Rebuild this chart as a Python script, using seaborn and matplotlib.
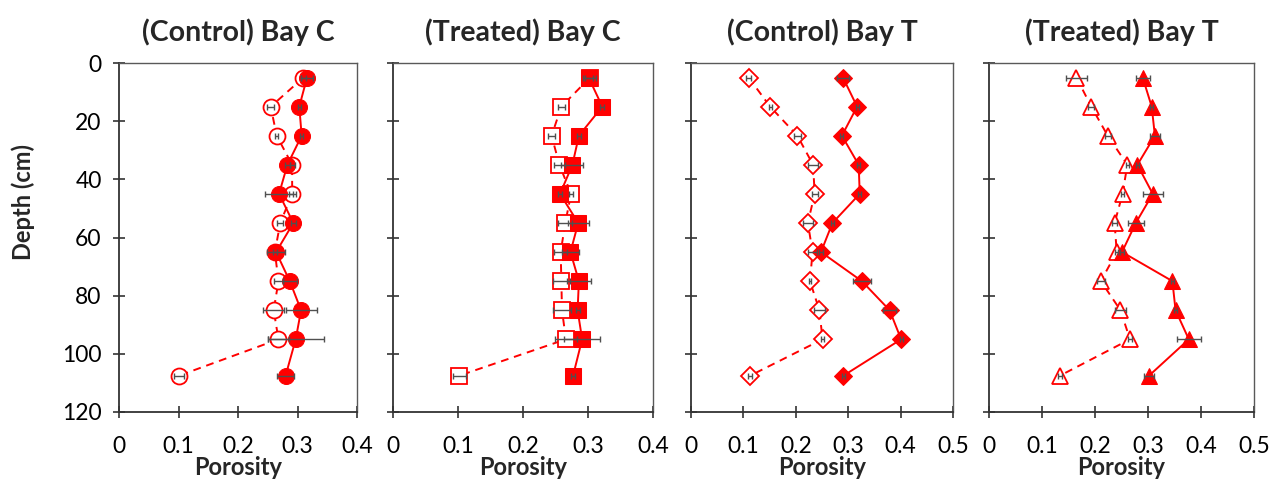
import matplotlib
matplotlib.use("Agg")
import matplotlib.pyplot as plt
import seaborn as sns
import numpy as np
import pandas as pd

# Sampling depths (cm)
depth = [5, 15, 25, 35, 45, 55, 65, 75, 85, 95, 107.5]

# Porosity profiles: dashed/open series and solid/filled series for each bay and treatment
ctrl_bayc_control = [0.310, 0.255, 0.265, 0.291, 0.291, 0.271, 0.262, 0.268, 0.260, 0.268, 0.101]
ctrl_bayc_control_err = [0.004, 0.006, 0.003, 0.004, 0.006, 0.005, 0.004, 0.008, 0.018, 0.017, 0.008]
trt_bayc_control = [0.316, 0.303, 0.307, 0.283, 0.269, 0.293, 0.264, 0.287, 0.306, 0.297, 0.280]
trt_bayc_control_err = [0.010, 0.003, 0.003, 0.004, 0.024, 0.004, 0.015, 0.012, 0.026, 0.047, 0.014]

ctrl_bayc_treated = [0.303, 0.259, 0.244, 0.256, 0.274, 0.265, 0.258, 0.259, 0.260, 0.266, 0.102]
ctrl_bayc_treated_err = [0.010, 0.005, 0.005, 0.008, 0.003, 0.011, 0.010, 0.013, 0.014, 0.017, 0.010]
trt_bayc_treated = [0.301, 0.322, 0.286, 0.276, 0.257, 0.285, 0.273, 0.286, 0.284, 0.291, 0.277]
trt_bayc_treated_err = [0.006, 0.003, 0.003, 0.017, 0.003, 0.016, 0.013, 0.019, 0.003, 0.028, 0.003]

ctrl_bayt_control = [0.110, 0.151, 0.203, 0.233, 0.236, 0.223, 0.232, 0.227, 0.245, 0.251, 0.113]
ctrl_bayt_control_err = [0.005, 0.003, 0.006, 0.010, 0.006, 0.010, 0.008, 0.002, 0.010, 0.003, 0.004]
trt_bayt_control = [0.290, 0.317, 0.288, 0.320, 0.322, 0.270, 0.248, 0.326, 0.379, 0.401, 0.291]
trt_bayt_control_err = [0.012, 0.003, 0.003, 0.003, 0.003, 0.003, 0.003, 0.017, 0.012, 0.003, 0.003]

ctrl_bayt_treated = [0.165, 0.193, 0.224, 0.261, 0.252, 0.237, 0.241, 0.211, 0.248, 0.266, 0.134]
ctrl_bayt_treated_err = [0.019, 0.006, 0.006, 0.003, 0.003, 0.004, 0.003, 0.007, 0.010, 0.003, 0.003]
trt_bayt_treated = [0.290, 0.307, 0.313, 0.280, 0.309, 0.277, 0.251, 0.346, 0.352, 0.377, 0.302]
trt_bayt_treated_err = [0.013, 0.003, 0.010, 0.003, 0.019, 0.015, 0.003, 0.003, 0.003, 0.023, 0.010]

titles = ["(Control) Bay C", "(Treated) Bay C", "(Control) Bay T", "(Treated) Bay T"]
x_limits = [0.4, 0.4, 0.5, 0.5]
markers = ["o", "s", "D", "^"]
marker_sizes = [11.5, 11.5, 9.5, 12]

panels = [
    (ctrl_bayc_control, ctrl_bayc_control_err, trt_bayc_control, trt_bayc_control_err),
    (ctrl_bayc_treated, ctrl_bayc_treated_err, trt_bayc_treated, trt_bayc_treated_err),
    (ctrl_bayt_control, ctrl_bayt_control_err, trt_bayt_control, trt_bayt_control_err),
    (ctrl_bayt_treated, ctrl_bayt_treated_err, trt_bayt_treated, trt_bayt_treated_err),
]

sns.set_theme(style="ticks")
plt.rcParams["font.family"] = ["Lato", "DejaVu Sans"]

W, H = 1271, 483
fig = plt.figure(figsize=(W / 100, H / 100), dpi=100)

# axes boxes in pixels: (left, right)
boxes = [(119, 357), (393, 653), (691, 953), (989, 1254)]
top_px, bottom_px = 63, 412

red = "#ff0000"
frame = "#595959"

for i, ((o_val, o_err, f_val, f_err), (l, r)) in enumerate(zip(panels, boxes)):
    ax = fig.add_axes([l / W, 1 - bottom_px / H, (r - l) / W, (bottom_px - top_px) / H])
    df = pd.DataFrame({"depth": depth, "open": o_val, "filled": f_val})

    # dashed series with open markers
    sns.lineplot(data=df, x="open", y="depth", sort=False, estimator=None, ax=ax,
                 color=red, lw=1.4, linestyle=(0, (4, 3)), marker=markers[i],
                 markersize=marker_sizes[i], markerfacecolor="white",
                 markeredgecolor=red, markeredgewidth=1.3, zorder=2)
    # solid series with filled markers
    sns.lineplot(data=df, x="filled", y="depth", sort=False, estimator=None, ax=ax,
                 color=red, lw=1.4, marker=markers[i], markersize=marker_sizes[i],
                 markerfacecolor=red, markeredgecolor=red, zorder=3)

    ax.errorbar(o_val, depth, xerr=o_err, fmt="none", ecolor="#505050",
                elinewidth=1, capsize=2, capthick=1, zorder=4)
    ax.errorbar(f_val, depth, xerr=f_err, fmt="none", ecolor="#505050",
                elinewidth=1, capsize=2, capthick=1, zorder=4)

    ticks = np.arange(0, x_limits[i] + 0.001, 0.1)
    ax.set_xlim(0, x_limits[i])
    ax.set_ylim(120, 0)
    ax.set_xticks(ticks)
    ax.set_xticklabels([("0" if v == 0 else f"{v:.1f}") for v in ticks])
    ax.set_yticks(np.arange(0, 121, 20))
    if i == 0:
        ax.set_ylabel("Depth (cm)", fontsize=17, fontweight="bold")
        ax.yaxis.set_label_coords(-84 / (r - l), (bottom_px - 202) / (bottom_px - top_px))
        ax.tick_params(axis="y", labelsize=16.5)
    else:
        ax.set_ylabel("")
        ax.set_yticklabels([])
    ax.set_xlabel("Porosity", fontsize=17, fontweight="bold", labelpad=-1)
    ax.set_title(titles[i], fontsize=20.5, fontweight="bold", pad=16)
    ax.tick_params(axis="both", direction="inout", length=9, width=1.2,
                   color="#333333", labelcolor="black")
    ax.tick_params(axis="x", labelsize=16.5, pad=13)
    ax.tick_params(axis="y", pad=8)
    for s in ax.spines.values():
        s.set_color(frame)
        s.set_linewidth(1.0)
    ax.spines["left"].set_color("#333333")
    ax.spines["bottom"].set_color("#333333")
    ax.spines["left"].set_linewidth(1.3)
    ax.spines["bottom"].set_linewidth(1.3)
    ax.grid(False)

fig.savefig("out.png", dpi=100, facecolor="white")
